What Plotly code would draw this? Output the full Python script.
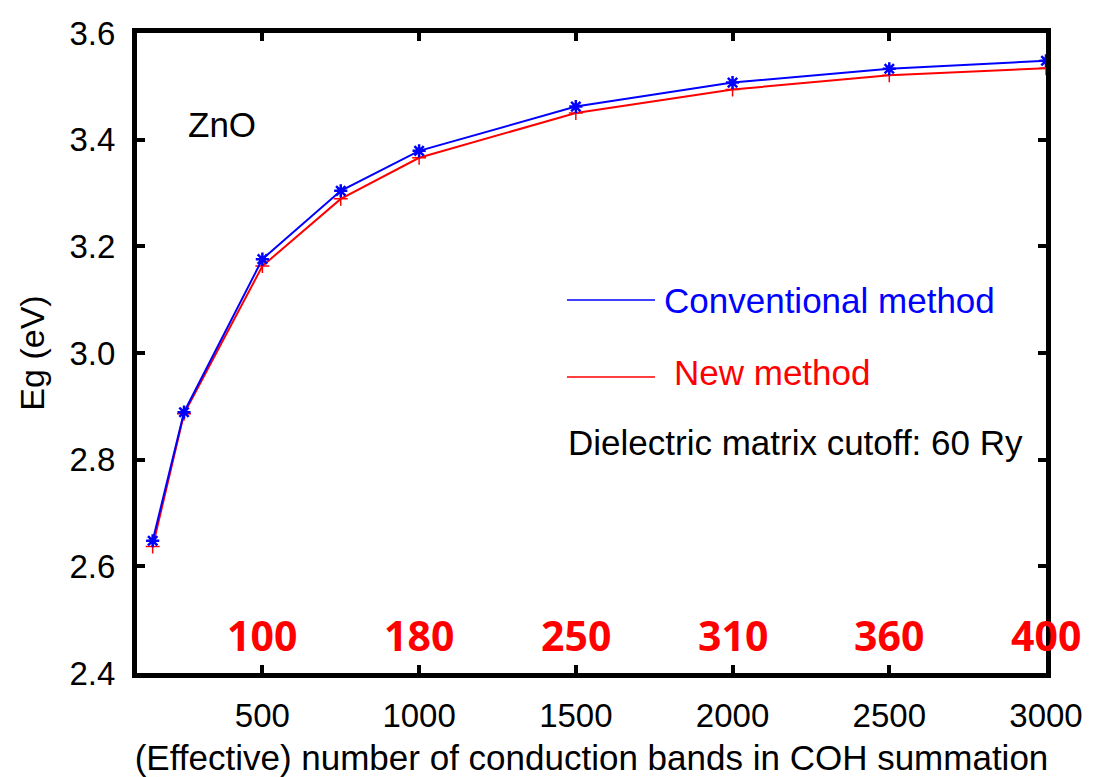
import plotly.graph_objects as go

# Data
n_bands = [150, 250, 500, 750, 1000, 1500, 2000, 2500, 3000]
eg_conventional = [2.648, 2.889, 3.176, 3.304, 3.379, 3.462, 3.507, 3.533, 3.548]
eg_new = [2.637, 2.886, 3.163, 3.289, 3.366, 3.450, 3.494, 3.521, 3.534]

band_label_x = [500, 1000, 1500, 2000, 2500, 3000]
band_label_text = ["100", "180", "250", "310", "360", "400"]

x_ticks = [500, 1000, 1500, 2000, 2500, 3000]
y_ticks = [2.4, 2.6, 2.8, 3.0, 3.2, 3.4, 3.6]

FONT = "Liberation Sans, Arial, sans-serif"
BLUE = "#0000ff"
RED = "#ff0000"

fig = go.Figure()
fig.add_trace(go.Scatter(
    x=n_bands, y=eg_new, mode="lines+markers", name="New method",
    line=dict(color=RED, width=2),
    marker=dict(symbol="cross-thin-open", size=10, line=dict(color=RED, width=1.5)),
    showlegend=False,
))
fig.add_trace(go.Scatter(
    x=n_bands, y=eg_conventional, mode="lines+markers", name="Conventional method",
    line=dict(color=BLUE, width=2),
    marker=dict(symbol="asterisk-open", size=11, line=dict(color=BLUE, width=2.5)),
    showlegend=False,
))

annotations = []
for xv, t in zip(band_label_x, band_label_text):
    annotations.append(dict(
        x=xv, y=2.471, xref="x", yref="y", text=t, showarrow=False,
        font=dict(family="Open Sans, sans-serif", size=41, color=RED, weight="bold"),
        xanchor="center", yanchor="middle",
    ))

annotations += [
    dict(x=0.054, y=0.8563, xref="paper", yref="paper", text="ZnO", showarrow=False,
         xanchor="left", yanchor="middle", font=dict(family=FONT, size=35, color="black")),
    dict(x=0.578, y=0.5828, xref="paper", yref="paper", text="Conventional method", showarrow=False,
         xanchor="left", yanchor="middle", font=dict(family=FONT, size=35, color=BLUE)),
    dict(x=0.589, y=0.4703, xref="paper", yref="paper", text="New method", showarrow=False,
         xanchor="left", yanchor="middle", font=dict(family=FONT, size=35, color=RED)),
    dict(x=0.4715, y=0.3609, xref="paper", yref="paper", text="Dielectric matrix cutoff: 60 Ry",
         showarrow=False, xanchor="left", yanchor="middle",
         font=dict(family=FONT, size=35, color="black")),
]

shapes = [
    dict(type="line", xref="paper", yref="paper", x0=0.4730, x1=0.5699, y0=0.5828, y1=0.5828,
         line=dict(color=BLUE, width=1.5)),
    dict(type="line", xref="paper", yref="paper", x0=0.4730, x1=0.5699, y0=0.4625, y1=0.4625,
         line=dict(color=RED, width=1.5)),
]

fig.update_layout(
    width=1095, height=777,
    margin=dict(l=137, r=49, t=33, b=104),
    paper_bgcolor="white", plot_bgcolor="white",
    font=dict(family=FONT, size=33, color="black"),
    annotations=annotations, shapes=shapes,
)
fig.update_xaxes(
    range=[100, 3000], tickvals=x_ticks, ticktext=[str(v) for v in x_ticks],
    automargin=False,
    showgrid=False, zeroline=False,
    showline=True, linecolor="black", linewidth=5, mirror="ticks",
    ticks="inside", ticklen=8, tickwidth=4, tickcolor="black",
    tickfont=dict(family=FONT, size=33, color="black"), ticklabelstandoff=9,
    title=dict(text="(Effective) number of conduction bands in COH summation",
               font=dict(family=FONT, size=35, color="black"), standoff=20),
)
fig.update_yaxes(
    range=[2.4, 3.6], tickvals=y_ticks, ticktext=[f"{v:.1f}" for v in y_ticks],
    automargin=False,
    showgrid=False, zeroline=False,
    showline=True, linecolor="black", linewidth=5, mirror="ticks",
    ticks="inside", ticklen=8, tickwidth=4, tickcolor="black",
    tickfont=dict(family=FONT, size=33, color="black"), ticklabelstandoff=10,
    title=dict(text="Eg (eV)", font=dict(family=FONT, size=34, color="black"), standoff=16),
)

fig.write_html("out.html")
